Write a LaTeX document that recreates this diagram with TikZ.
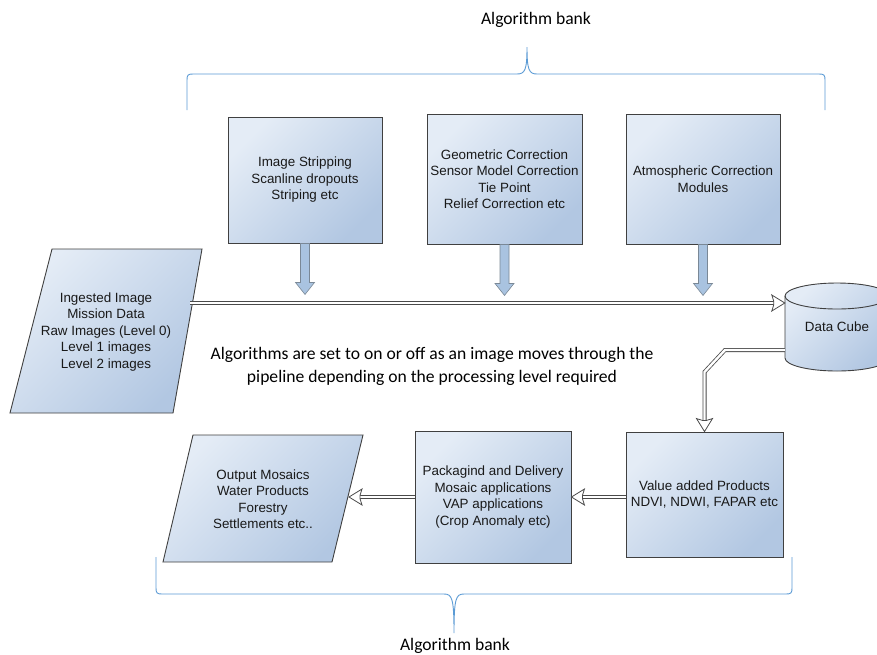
\documentclass[tikz,border=0pt]{standalone}
\usepackage{fontspec}
\setmainfont{Liberation Sans}
\newfontfamily\calfont{Carlito}
\usetikzlibrary{calc}
\definecolor{boxlight}{HTML}{E4ECF6}
\definecolor{boxdark}{HTML}{B2C7E2}
\definecolor{edgecol}{HTML}{404040}
\definecolor{bracecol}{HTML}{5B9BD5}
\definecolor{blockfill}{HTML}{A9C3E0}
\definecolor{blockedge}{HTML}{7A8896}
\definecolor{linecol}{HTML}{4A4A4A}

\tikzset{
  proc/.style={draw=edgecol, line width=0.9pt, left color=boxlight, right color=boxdark,
    shading angle=45, align=center, font=\fontsize{13.4}{16.5}\selectfont, text=black!90},
  slanted/.style={draw=edgecol, line width=0.9pt, left color=boxlight, right color=boxdark,
    shading angle=45},
  boxtext/.style={align=center, font=\fontsize{13.4}{16.5}\selectfont, text=black!90},
  dblplain/.style={draw=linecol, double=white, double distance=2.4pt, line width=0.8pt},
  headstyle/.style={draw=linecol, line width=0.8pt, fill=white, line join=miter},
  bracket/.style={draw=bracecol, line width=0.9pt},
  note/.style={align=center, font=\calfont\fontsize{17.6}{23}\selectfont},
  dropfill/.style={draw=blockedge, line width=0.6pt, fill=blockfill},
}

% small block arrow hanging below an algorithm module
\newcommand\dropArrow[1]{%
  \draw[dropfill] ($(#1.south)+(-4.5,0)$) -- ($(#1.south)+(-4.5,39)$)
    -- ($(#1.south)+(-9.5,39)$) -- ($(#1.south)+(0,51)$)
    -- ($(#1.south)+(9.5,39)$) -- ($(#1.south)+(4.5,39)$)
    -- ($(#1.south)+(4.5,0)$) -- cycle;}

% hollow head of a double-line connector: #1 = point behind, #2 = tip
\newcommand\hollowHead[2]{%
  \draw[headstyle] (#2)
    -- ($($(#2)!13pt!(#1)$)!8pt!90:(#2)$)
    -- ($($(#2)!11pt!(#1)$)!1.6pt!90:(#2)$)
    -- ($($(#2)!11pt!(#1)$)!1.6pt!-90:(#2)$)
    -- ($($(#2)!13pt!(#1)$)!8pt!-90:(#2)$)
    -- cycle;}

\begin{document}
\begin{tikzpicture}[x=1pt, y=-1pt]
\useasboundingbox (0,0) rectangle (877,654);
\clip (0,0) rectangle (877,654);
\fill[white] (0,0) rectangle (877,654);

% ---- upper algorithm bank ----
\node[note] (bankTop) at (536,20) {Algorithm bank};
\draw[bracket] (187,110) -- (187,80) .. controls (187,75) and (188,74) .. (193,74)
  -- (517,74) .. controls (525,74) and (527,70) .. (527,47)
  .. controls (527,70) and (529,74) .. (537,74)
  -- (819,74) .. controls (824,74) and (825,75) .. (825,80) -- (825,110);

\node[proc, minimum width=154pt, minimum height=126pt] (strip) at (305,180)
  {Image Stripping\\Scanline dropouts\\Striping etc};
\node[proc, minimum width=155pt, minimum height=130pt] (geom) at (504.5,179)
  {Geometric Correction\\Sensor Model Correction\\Tie Point\\Relief Correction etc};
\node[proc, minimum width=154pt, minimum height=130pt] (atmo) at (703,179)
  {Atmospheric Correction\\Modules};

\dropArrow{strip}
\dropArrow{geom}
\dropArrow{atmo}

% ---- ingested data ----
\draw[slanted] (52,249) -- (202,249) -- (173,413) -- (10,413) -- cycle;
\node[boxtext] (ingest) at (106,332)
  {Ingested Image\\Mission Data\\Raw Images (Level 0)\\Level 1 images\\Level 2 images};
\coordinate (ingestR) at (190,303);

% ---- data cube ----
\path[left color=boxlight, right color=boxdark, shading angle=45]
  (785,296) -- (785,358) arc[start angle=180, end angle=360, x radius=52pt, y radius=13pt]
  -- (889,296) arc[start angle=0, end angle=180, x radius=52pt, y radius=13pt] -- cycle;
\draw[edgecol, line width=0.9pt]
  (785,296) -- (785,358) arc[start angle=180, end angle=360, x radius=52pt, y radius=13pt]
  -- (889,296) arc[start angle=0, end angle=180, x radius=52pt, y radius=13pt];
\draw[edgecol, line width=0.9pt]
  (785,296) arc[start angle=180, end angle=360, x radius=52pt, y radius=13pt];
\node[boxtext, minimum width=104pt, minimum height=88pt] (cube) at (837,327) {Data Cube};

\coordinate (cubeIn) at (cube.west |- ingestR);
\draw[dblplain] (ingestR) -- ($(cubeIn)!11pt!(ingestR)$);
\hollowHead{ingestR}{cubeIn}

\node[note] (remark) at (432,366)
  {Algorithms are set to on or off as an image moves through the\\
   pipeline depending on the processing level required};

% ---- lower row ----
\node[proc, minimum width=157pt, minimum height=125pt] (vap) at (704.5,494.5)
  {Value added Products\\NDVI, NDWI, FAPAR etc};
\node[proc, minimum width=156pt, minimum height=132pt] (pack) at (493,497)
  {Packagind and Delivery\\Mosaic applications\\VAP applications\\(Crop Anomaly etc)};

\draw[slanted] (193,435) -- (363,435) -- (332,562) -- (163,562) -- cycle;
\node[boxtext] (output) at (263,499)
  {Output Mosaics\\Water Products\\Forestry\\Settlements etc..};
\coordinate (outputR) at (349,497);

% data cube down to the value added products
\coordinate (cubeOut) at (cube.west |- 0,350);
\coordinate (bend1) at (725,350);
\coordinate (bend2) at (vap.north |- 0,372);
\draw[dblplain] (cubeOut) -- (bend1) -- (bend2) -- ($(vap.north)!11pt!(bend2)$);
\hollowHead{bend2}{vap.north}

% value added products to packaging
\coordinate (vapOut) at (vap.west |- pack.east);
\coordinate (packBack) at ($(pack.east)!11pt!(vapOut)$);
\draw[dblplain] (packBack) -- (vapOut);
\hollowHead{vapOut}{pack.east}

% packaging to output
\coordinate (outBack) at ($(outputR)!11pt!(pack.west)$);
\draw[dblplain] (pack.west) -- (outBack);
\hollowHead{pack.west}{outputR}

% ---- lower algorithm bank ----
\draw[bracket] (156,557) -- (156,588) .. controls (156,593) and (157,594) .. (162,594)
  -- (444,594) .. controls (452,594) and (454,598) .. (454,633)
  .. controls (454,598) and (456,594) .. (464,594)
  -- (786,594) .. controls (791,594) and (792,593) .. (792,588) -- (792,557);
\node[note] (bankBottom) at (455,646) {Algorithm bank};
\end{tikzpicture}
\end{document}
